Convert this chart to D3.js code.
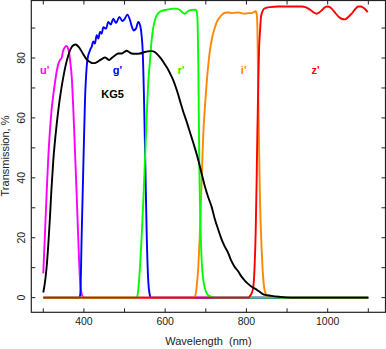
<!DOCTYPE html>
<html><head><meta charset="utf-8">
<script src="https://cdn.jsdelivr.net/npm/d3@7"></script>
<style>html,body{margin:0;padding:0;background:#fff;}svg{display:block;}</style>
</head><body>
<svg id="chart" width="386" height="349"></svg>
<script>
const xTicks = [300,400,500,600,700,800,900,1000,1100];
const xTickLabels = [400,600,800,1000];
const yTicks = [0,10,20,30,40,50,60,70,80,90];
const yTickLabels = [0,20,40,60,80];

const uFilter = [[300,8.1],[304,21],[308,34],[312,46],[316,55],[320,62],[325,68],[329,72],[333,75.5],[337,78],[341,79.3],[345,80],[349,82.5],[353,83.6],[357,84],[361,83.2],[364,81.5],[367,78],[370,73.7],[374,62.6],[378,49],[382,35],[386,20],[390,7],[394,1.5],[398,0.2],[402,0],[1100,0]];
const gFilter = [[300,0],[388,0],[391,1],[394.5,21],[398.6,44],[402.7,66],[406.8,77],[410,80.5],[413.4,82],[416,83],[419,83.7],[423,85.5],[427,84.8],[431.4,87.6],[435.5,86.5],[439.6,88.7],[443.7,88.1],[447.8,90.3],[454.4,89.8],[460,92],[466,91.2],[472.4,93.1],[479,91.7],[487.2,93.7],[495.4,92.3],[500,93],[507,94.5],[513.5,92.6],[518,90.5],[522,89.2],[528,89.8],[534,92],[539,90.5],[542,87.5],[544.6,82.6],[548,66],[551.2,44],[554.5,21.4],[558.6,5],[562,1],[565,0],[1100,0]];
const rFilter = [[300,0],[528,0],[531.5,0.5],[534,3],[538,10.3],[542,20],[546.3,32.6],[550,45],[554.5,60.3],[558,71],[562.7,79.2],[566,85],[570.9,90.3],[575,92.8],[579,94.2],[585,95.2],[591.4,95.7],[603.7,96.1],[620,96.5],[630,96.4],[636.5,96],[642,95.3],[648.8,94.8],[655,95.5],[661,96],[673,96.1],[677,95.8],[679.5,93],[681.6,77],[684.1,44],[687.4,21.4],[690,12],[693.9,5.9],[698,3],[702,1.5],[708,0.6],[714,0.2],[725,0],[1100,0]];
const iFilter = [[300,0],[670,0],[673.4,0.3],[677,3],[681.6,10.3],[685,20],[688.2,32.6],[691,44],[693.9,54.8],[698,64],[702,71.5],[706,77.5],[710.3,82.6],[716,87],[722.6,90.3],[728,92.3],[735,93.7],[741,94.6],[747.3,95.1],[755,95.2],[763.7,95],[772,95.1],[780,95.2],[788,95],[796.5,94.8],[805,95],[812.9,95],[818,95.3],[822.7,95.6],[825.5,94.5],[827,90],[829.3,66],[831.3,49],[833.4,32.6],[835.5,23],[837.5,15.9],[840,9],[843.3,3.7],[846,1.8],[849.8,0.9],[856,0.5],[862,0.3],[880,0.1],[900,0],[1100,0]];
const zFilter = [[300,0],[805,0],[808.8,0.6],[813,1.5],[817,3.7],[820,10],[822.7,21.4],[825,38],[826.9,54.8],[829,70],[831,82.6],[833.5,89],[835.9,93.7],[840,95.7],[844.1,96.5],[850,96.8],[858,97],[878.5,97.2],[911.4,97.2],[936,97.2],[945,97],[952.4,96.5],[958,96],[964.7,95.3],[972.9,94.8],[979,95.2],[985.2,95.9],[991,96.7],[997.5,97.2],[1003,97.1],[1009.8,96.5],[1017,95.3],[1026.2,93.9],[1034,93.1],[1042.6,92.9],[1050,93.6],[1059,94.8],[1067,96.2],[1075.5,97.2],[1081,97.2],[1087.8,96.8],[1093,96.2],[1098.4,95.3]];
const kg5 = [[300,1.7],[304,5],[308.3,10.3],[312,17],[316.5,27],[320,36],[324.7,45.9],[330,54],[337,62.6],[343,68.5],[349.4,73.7],[355,77.5],[361.7,80.9],[366,82.6],[370,83.7],[375,84.3],[379.7,84.5],[385,84],[390.4,83.1],[396,81.8],[402.7,80.3],[409,79.2],[415,78.7],[421,78.3],[427,78.3],[433,78.7],[439.6,79.3],[446,79.8],[452,80.2],[457,79.8],[462,79.3],[467,79.8],[472.4,80.4],[478,81],[484.7,81.5],[493,81.5],[499,82],[505.2,82.4],[511,82],[517.5,81.5],[528,81.4],[538,81.5],[545,81.8],[550.4,82],[557,82.2],[562.7,82.3],[568,82.3],[572.5,82.1],[578,81.6],[583.2,80.9],[590,79.8],[595.5,78.7],[602,77.3],[607.8,76],[614,74.3],[620,72.5],[626,70.3],[632,67.8],[638,65],[644.7,62],[651,59.5],[659.5,55.9],[665,53.5],[673,50],[681.6,45.9],[690,41.3],[698,37],[706,33.5],[714.4,30.3],[722,26.3],[730.9,22.6],[738,19.8],[745,17.5],[755.5,14.8],[762,12.5],[770,10.5],[780,8.7],[788,7],[796.5,5.6],[805,4.5],[813,3.6],[821,3.0],[830,2.2],[841.6,1.1],[862,0.6],[880,0.3],[895,0.1],[920,0],[1100,0]];

const series = [
  {name:"u'", data:uFilter, color:"#ff00ff", lx:44.7, ly:74},
  {name:"g'", data:gFilter, color:"#0000ff", lx:117.5, ly:74},
  {name:"i'", data:iFilter, color:"#ff8800", lx:243.7, ly:73.5},
  {name:"r'", data:rFilter, color:"#00ff00", lx:181, ly:74},
  {name:"z'", data:zFilter, color:"#ff0000", lx:315.5, ly:74},
  {name:"KG5", data:kg5, color:"#000000", lx:112.5, ly:98.3}
];

const svg = d3.select("#chart");
const L = 31.3, R = 385.5, T = 0.5, B = 312.3;
const x = d3.scaleLinear().domain([270.5, 1142.3]).range([L, R]);
const y = d3.scaleLinear().domain([-4.9, 99.2]).range([B, T]);
const font = "'Liberation Sans', Arial, Helvetica, sans-serif";

const line = d3.line().x(d => x(d[0])).y(d => y(d[1])).curve(d3.curveMonotoneX);
series.forEach(s => {
  svg.append("path").attr("d", line(s.data)).attr("fill","none")
    .attr("stroke", s.color).attr("stroke-width", 1.9).attr("stroke-linejoin","round");
});

// frame
svg.append("rect").attr("x", L).attr("y", T).attr("width", R - L).attr("height", B - T)
  .attr("fill","none").attr("stroke","#222").attr("stroke-width",1.2);

const tl = 4;
const gx = svg.append("g");
xTicks.forEach(t => {
  gx.append("line").attr("x1", x(t)).attr("x2", x(t)).attr("y1", B).attr("y2", B - tl).attr("stroke","#222");
  gx.append("line").attr("x1", x(t)).attr("x2", x(t)).attr("y1", T).attr("y2", T + tl).attr("stroke","#222");
});
yTicks.forEach(t => {
  gx.append("line").attr("x1", L).attr("x2", L + tl).attr("y1", y(t)).attr("y2", y(t)).attr("stroke","#222");
  gx.append("line").attr("x1", R).attr("x2", R - tl).attr("y1", y(t)).attr("y2", y(t)).attr("stroke","#222");
});
xTickLabels.forEach(t => {
  svg.append("text").attr("x", x(t)).attr("y", 325).attr("text-anchor","middle")
    .attr("font-family", font).attr("font-size", 10.5).attr("fill","#222").text(t);
});
yTickLabels.forEach(t => {
  svg.append("text").attr("transform", `translate(25,${y(t)}) rotate(-90)`).attr("text-anchor","middle")
    .attr("font-family", font).attr("font-size", 10.5).attr("fill","#222").text(t);
});
svg.append("text").attr("x", (L + R) / 2).attr("y", 345).attr("text-anchor","middle")
  .attr("font-family", font).attr("font-size", 11).attr("fill","#222").attr("xml:space","preserve").text("Wavelength  (nm)");
svg.append("text").attr("transform", `translate(8.5,156) rotate(-90)`).attr("text-anchor","middle")
  .attr("font-family", font).attr("font-size", 11).attr("fill","#222").text("Transmission, %");

series.forEach(s => {
  svg.append("text").attr("x", s.lx).attr("y", s.ly).attr("text-anchor","middle")
    .attr("font-family", font).attr("font-size", 11).attr("font-weight","bold")
    .attr("fill", s.color).text(s.name);
});
</script>
</body></html>
